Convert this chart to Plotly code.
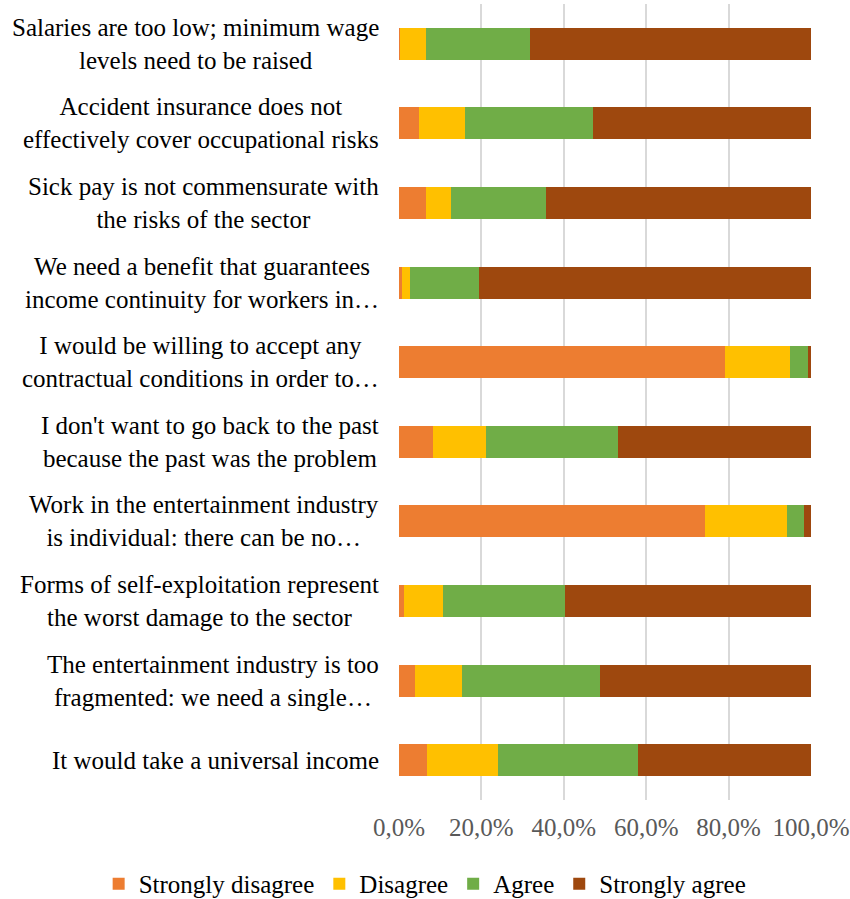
import plotly.graph_objects as go

categories = [
    "Salaries are too low; minimum wage<br>levels need to be raised",
    "Accident insurance does not<br>effectively cover occupational risks",
    "Sick pay is not commensurate with<br>the risks of the sector",
    "We need a benefit that guarantees<br>income continuity for workers in…",
    "I would be willing to accept any<br>contractual conditions in order to…",
    "I don't want to go back to the past<br>because the past was the problem",
    "Work in the entertainment industry<br>is individual: there can be no…",
    "Forms of self-exploitation represent<br>the worst damage to the sector",
    "The entertainment industry is too<br>fragmented: we need a single…",
    "It would take a universal income",
]

strongly_disagree = [0.3, 4.8, 6.5, 0.8, 79.1, 8.2, 74.3, 1.1, 3.9, 6.7]
disagree = [6.2, 11.2, 6.2, 1.8, 15.9, 12.8, 19.9, 9.6, 11.4, 17.4]
agree = [25.2, 31.1, 22.9, 16.9, 4.2, 32.1, 4.2, 29.6, 33.5, 33.9]
strongly_agree = [68.3, 52.9, 64.4, 80.5, 0.8, 46.9, 1.6, 59.7, 51.2, 42.0]

series = [
    ("Strongly disagree", strongly_disagree, "#ED7D31"),
    ("Disagree", disagree, "#FFC000"),
    ("Agree", agree, "#70AD47"),
    ("Strongly agree", strongly_agree, "#9E480E"),
]

tick_vals = [0, 20, 40, 60, 80, 100]
tick_text = ["0,0%", "20,0%", "40,0%", "60,0%", "80,0%", "100,0%"]

FONT = '"Liberation Serif", "DejaVu Serif", serif'

fig = go.Figure()
for name, vals, color in series:
    fig.add_trace(go.Bar(
        y=categories, x=vals, name=name, orientation="h",
        marker=dict(color=color, line=dict(width=0)),
    ))

annotations = []
for c in categories:
    annotations.append(dict(
        x=0, xref="paper", y=c, yref="y", text=c, showarrow=False,
        xanchor="right", yanchor="middle", align="center", xshift=-18,
        font=dict(family=FONT, size=25, color="#000000"),
    ))

fig.update_layout(
    width=850, height=899,
    margin=dict(l=399, r=39, t=4, b=99, autoexpand=False),
    paper_bgcolor="white", plot_bgcolor="white",
    barmode="stack", bargap=0.6,
    font=dict(family=FONT, size=25, color="#000000"),
    showlegend=True,
    legend=dict(orientation="h", x=-0.729, xanchor="left",
                y=-0.1055, yanchor="middle",
                traceorder="normal", font=dict(family=FONT, size=25, color="#000000"),
                itemwidth=30),
    annotations=annotations,
    xaxis=dict(range=[0, 100], tickvals=tick_vals, ticktext=tick_text,
               showgrid=True, gridcolor="#d9d9d9", gridwidth=1.5, zeroline=False,
               showline=False, ticks="", ticklabelstandoff=10, automargin=False,
               tickfont=dict(family=FONT, size=25, color="#595959")),
    yaxis=dict(autorange="reversed", showticklabels=False, showgrid=False,
               zeroline=False, showline=False, ticks="", automargin=False),
)

fig.write_html("out.html", config={"displayModeBar": False},
               post_script="document.body.style.margin='0';")
